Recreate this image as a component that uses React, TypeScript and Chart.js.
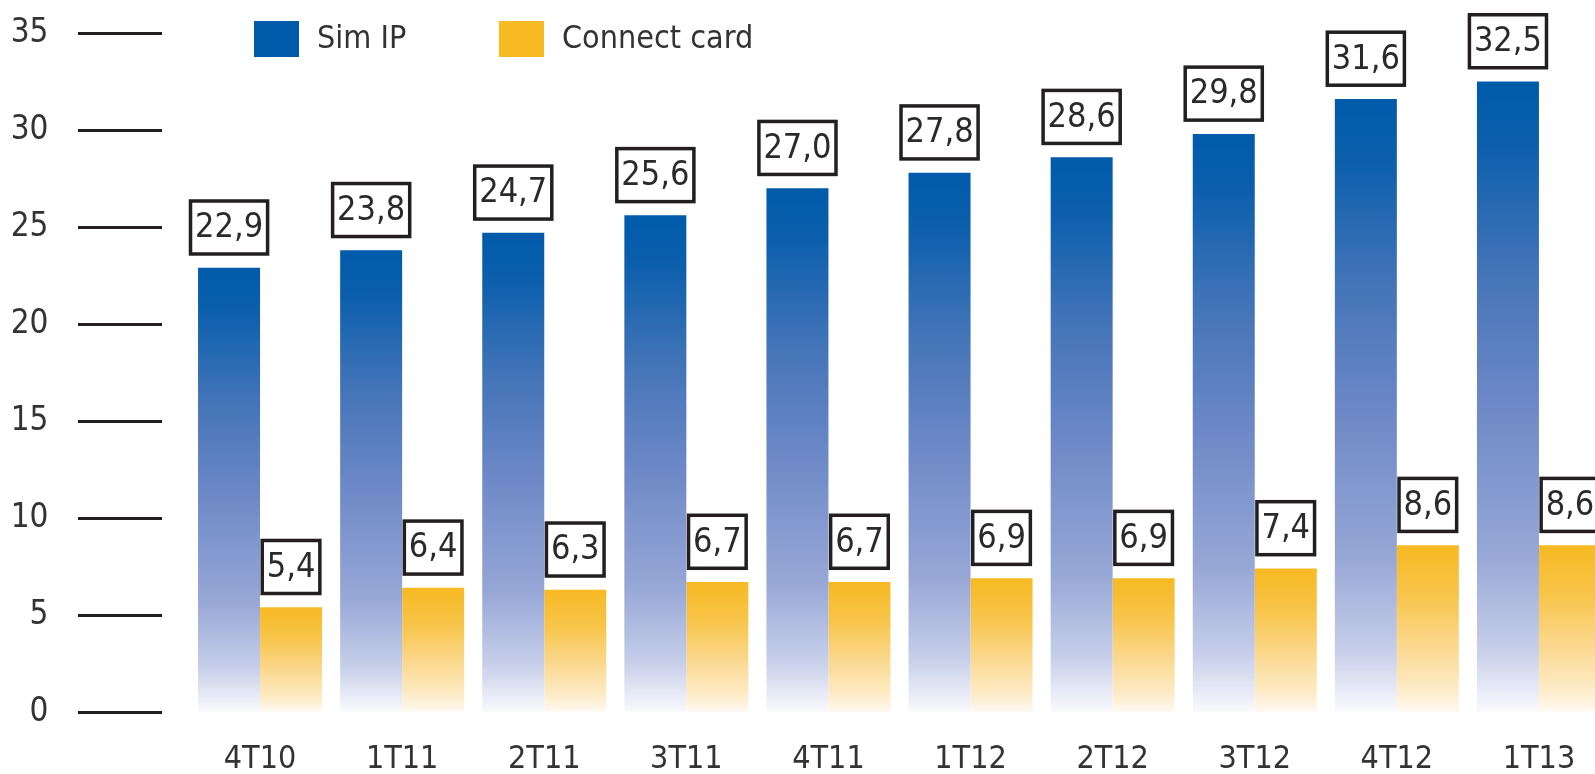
import React, { useEffect, useRef } from 'react';
import { Chart, registerables } from 'chart.js';

Chart.register(...registerables);

const categories = ['4T10', '1T11', '2T11', '3T11', '4T11', '1T12', '2T12', '3T12', '4T12', '1T13'];
const simIP = [22.9, 23.8, 24.7, 25.6, 27.0, 27.8, 28.6, 29.8, 31.6, 32.5];
const connectCard = [5.4, 6.4, 6.3, 6.7, 6.7, 6.9, 6.9, 7.4, 8.6, 8.6];
const seriesNames = ['Sim IP', 'Connect card'];
const yMin = 0;
const yMax = 35;
const yStep = 5;

const FONT = '"DejaVu Sans Condensed", "DejaVu Sans", sans-serif';
const TEXT = '#333333';
const BLUE = '#005BAA';
const YELLOW = '#F7BA22';

const blueStops: [number, string][] = [
  [0, '#005BAA'],
  [0.1, '#0C5FAD'],
  [0.3, '#4374B8'],
  [0.5, '#6B87C6'],
  [0.75, '#97A7D6'],
  [0.9, '#C6CEE9'],
  [1, '#FAFAFD'],
];
const yellowStops: [number, string][] = [
  [0, '#F7B922'],
  [0.3, '#F8C54A'],
  [0.6, '#FBD88E'],
  [0.85, '#FDEAC4'],
  [1, '#FFF9F1'],
];

function gradientFor(stops: [number, string][], solid: string) {
  return (c: any) => {
    const chart = c.chart;
    if (c.type !== 'data' || !chart.chartArea || !chart.scales.y) return solid;
    const y = chart.scales.y;
    const top = y.getPixelForValue(c.parsed ? c.parsed.y : c.raw);
    const bottom = y.getPixelForValue(0);
    if (!isFinite(top) || !isFinite(bottom) || top === bottom) return solid;
    const g = chart.ctx.createLinearGradient(0, top, 0, bottom);
    stops.forEach(([o, col]) => g.addColorStop(o, col));
    return g;
  };
}

const boxLabels = {
  id: 'boxLabels',
  afterDatasetsDraw(chart: any) {
    const ctx = chart.ctx;
    ctx.save();
    ctx.font = `34px ${FONT}`;
    ctx.textAlign = 'center';
    ctx.textBaseline = 'middle';
    chart.data.datasets.forEach((ds: any, di: number) => {
      const meta = chart.getDatasetMeta(di);
      meta.data.forEach((bar: any, i: number) => {
        const v = ds.data[i] as number;
        const text = v.toFixed(1).replace('.', ',');
        const lw = 3.5;
        const w = ctx.measureText(text).width + 9;
        const h = 53;
        const bottom = bar.y - 12 - lw / 2;
        const x = bar.x - w / 2;
        const y = bottom - h;
        ctx.fillStyle = '#ffffff';
        ctx.fillRect(x, y, w, h);
        ctx.lineWidth = lw;
        ctx.strokeStyle = '#231F20';
        ctx.strokeRect(x, y, w, h);
        ctx.fillStyle = '#2a2a2a';
        ctx.fillText(text, bar.x, y + h / 2 + 1);
      });
    });
    ctx.restore();
  },
};

const LEGEND_X = [254, 499];
const LEGEND_TOP = 21;
const LEGEND_BOX_W = 45;
const LEGEND_BOX_H = 36;

const customLegend = {
  id: 'customLegend',
  afterDraw(chart: any) {
    const ctx = chart.ctx;
    ctx.save();
    ctx.font = `32px ${FONT}`;
    ctx.textAlign = 'left';
    ctx.textBaseline = 'middle';
    chart.data.datasets.forEach((ds: any, di: number) => {
      const x = LEGEND_X[di];
      ctx.fillStyle = ds.legendColor;
      ctx.fillRect(x, LEGEND_TOP, LEGEND_BOX_W, LEGEND_BOX_H);
      ctx.fillStyle = TEXT;
      ctx.fillText(ds.label, x + LEGEND_BOX_W + 18, LEGEND_TOP + LEGEND_BOX_H / 2 + 1);
    });
    ctx.restore();
  },
};

export default function App() {
  const ref = useRef<HTMLCanvasElement | null>(null);

  useEffect(() => {
    if (!ref.current) return;
    const chart = new Chart(ref.current, {
      type: 'bar',
      data: {
        labels: categories,
        datasets: [
          {
            label: seriesNames[0],
            data: simIP,
            backgroundColor: gradientFor(blueStops, BLUE),
            legendColor: BLUE,
            borderWidth: 0,
            categoryPercentage: 0.8726,
            barPercentage: 1,
          } as any,
          {
            label: seriesNames[1],
            data: connectCard,
            backgroundColor: gradientFor(yellowStops, YELLOW),
            legendColor: YELLOW,
            borderWidth: 0,
            categoryPercentage: 0.8726,
            barPercentage: 1,
          } as any,
        ],
      },
      options: {
        responsive: false,
        animation: false,
        devicePixelRatio: 1,
        layout: { padding: { left: 0, top: 33, right: 10, bottom: 0 } },
        plugins: {
          legend: { display: false },
          tooltip: { enabled: false },
        },
        scales: {
          x: {
            grid: { display: false, drawTicks: false },
            border: { display: false },
            ticks: {
              padding: 28,
              color: TEXT,
              font: { family: FONT, size: 32 },
              maxRotation: 0,
              autoSkip: false,
            },
            afterFit: (s: any) => {
              s.height = 62;
            },
          },
          y: {
            min: yMin,
            max: yMax,
            border: { display: false },
            grid: {
              drawOnChartArea: false,
              drawTicks: true,
              tickLength: 140.5,
              tickWidth: 3,
              tickColor: '#231F20',
              tickBorderDash: [84, 56.5],
              tickBorderDashOffset: 111,
            },
            ticks: {
              stepSize: yStep,
              padding: 0,
              color: TEXT,
              font: { family: FONT, size: 33 },
            },
            afterFit: (s: any) => {
              s.width = 189;
            },
          },
        },
      },
      plugins: [boxLabels, customLegend],
    });
    return () => chart.destroy();
  }, []);

  return (
    <div
      style={{
        position: 'absolute',
        left: 0,
        top: 0,
        width: 1595,
        height: 774,
        overflow: 'hidden',
        background: '#ffffff',
      }}
    >
      <canvas ref={ref} width={1620} height={774} style={{ display: 'block', width: 1620, height: 774 }} />
    </div>
  );
}
